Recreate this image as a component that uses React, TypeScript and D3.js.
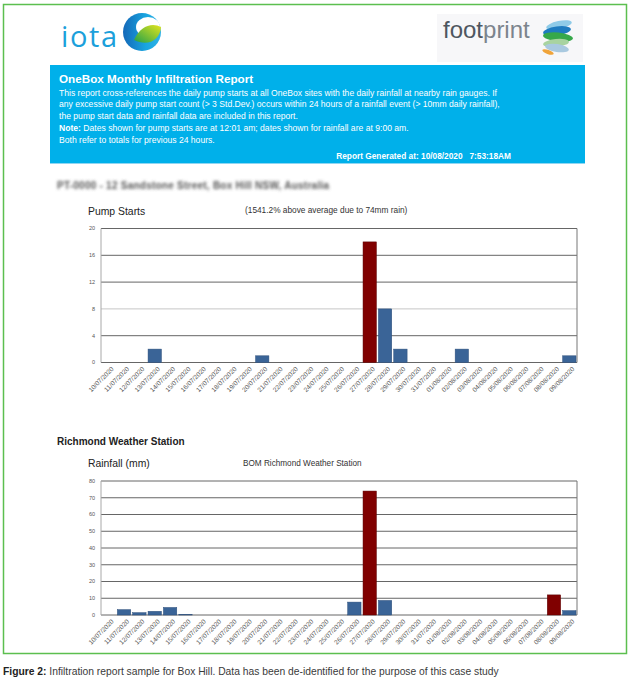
import React from 'react';
import * as d3 from 'd3';

const W = 632;
const H = 685;
const FONT = '"Liberation Sans", Arial, Helvetica, sans-serif';

// day labels on both x axes
const dates = [
  '10/07/2020', '11/07/2020', '12/07/2020', '13/07/2020', '14/07/2020', '15/07/2020',
  '16/07/2020', '17/07/2020', '18/07/2020', '19/07/2020', '20/07/2020', '21/07/2020',
  '22/07/2020', '23/07/2020', '24/07/2020', '25/07/2020', '26/07/2020', '27/07/2020',
  '28/07/2020', '29/07/2020', '30/07/2020', '31/07/2020', '01/08/2020', '02/08/2020',
  '03/08/2020', '04/08/2020', '05/08/2020', '06/08/2020', '07/08/2020', '08/08/2020',
  '09/08/2020',
];

const pumpStarts = [0, 0, 0, 2, 0, 0, 0, 0, 0, 0, 1, 0, 0, 0, 0, 0, 0, 18, 8, 2, 0, 0, 0, 2, 0, 0, 0, 0, 0, 0, 1];
const pumpHighlight = ['27/07/2020'];
const pumpTicks = [0, 4, 8, 12, 16, 20];

const rainfall = [0, 3.2, 1.4, 2.2, 4.5, 0.4, 0, 0, 0, 0, 0, 0, 0, 0, 0, 0, 7.7, 74, 8.7, 0, 0, 0, 0, 0, 0, 0, 0, 0, 0, 12, 2.6];
const rainHighlight = ['27/07/2020', '08/08/2020'];
const rainTicks = [0, 10, 20, 30, 40, 50, 60, 70, 80];

const infoLines = [
  'This report cross-references the daily pump starts at all OneBox sites with the daily rainfall at nearby rain gauges. If',
  'any excessive daily pump start count (> 3 Std.Dev.) occurs within 24 hours of a rainfall event (> 10mm daily rainfall),',
  'the pump start data and rainfall data are included in this report.',
];

const BLUE = '#3a6497';
const RED = '#800000';

type ChartProps = {
  top: number; bottom: number; left: number; right: number;
  values: number[]; highlight: string[]; ticks: number[]; lightTicks: number[];
};

function BarChart({ top, bottom, left, right, values, highlight, ticks, lightTicks }: ChartProps) {
  const x = d3.scaleBand().domain(dates).range([left, right]).paddingInner(0.13).paddingOuter(0.065);
  const y = d3.scaleLinear().domain([0, d3.max(ticks) as number]).range([bottom, top]);

  return (
    <g>
      {ticks.map(t => (
        <g key={t}>
          <line x1={left} x2={right} y1={y(t)} y2={y(t)}
            stroke={lightTicks.includes(t) ? '#c6c6c6' : '#666'} strokeWidth={1} />
          <text x={left - 6} y={y(t)} dy="0.35em" textAnchor="end" fontSize={5.5} fill="#555">{t}</text>
        </g>
      ))}
      <line x1={left} x2={left} y1={top} y2={bottom} stroke="#a8a8a8" strokeWidth={1} />
      <line x1={right} x2={right} y1={top} y2={bottom} stroke="#777" strokeWidth={1} />
      {dates.map((d, i) => values[i] > 0 && (
        <rect key={d} x={x(d)} width={x.bandwidth()} y={y(values[i])} height={bottom - y(values[i])}
          fill={highlight.includes(d) ? RED : BLUE}
          stroke={highlight.includes(d) ? '#5a0000' : '#2c4e7a'} strokeWidth={0.5} />
      ))}
      {dates.map(d => {
        const cx = (x(d) as number) + x.bandwidth() / 2;
        return (
          <text key={d} transform={`translate(${cx + 5.5},${bottom + 7}) rotate(-45)`}
            textAnchor="end" fontSize={6.5} fill="#555">{d}</text>
        );
      })}
    </g>
  );
}

function IotaLogo() {
  return (
    <g>
      <text x={61} y={47} fontSize={29} fill="#1ba0db" textLength={56} fontFamily='"Open Sans", sans-serif'>iota</text>
      <circle cx={142} cy={32} r={19} fill="url(#iotaGrad)" />
      <ellipse cx={148} cy={27} rx={12} ry={10} fill="#ffffff" />
      <path d="M134,40 C140,26 152,22 161,27 C160,40 148,47 134,40 Z" fill="url(#leafGrad)" />
    </g>
  );
}

function FootprintLogo() {
  return (
    <g>
      <rect x={437} y={14} width={146} height={48} fill="#f7f7f9" />
      <text x={443} y={38} fontSize={24} fill="#4e5660" fontFamily={FONT}>
        foot<tspan fill="#7c848d">print</tspan>
      </text>
      <ellipse cx={559} cy={25} rx={13} ry={4} fill="#8fcbe8" transform="rotate(-12 559 25)" />
      <ellipse cx={557} cy={31} rx={14} ry={4.5} fill="#1f7cc0" transform="rotate(-8 557 31)" />
      <ellipse cx={558} cy={37} rx={15} ry={4.5} fill="#36a84a" transform="rotate(6 558 37)" />
      <ellipse cx={556} cy={43} rx={13} ry={4} fill="#a8d3a0" transform="rotate(-6 556 43)" />
      <ellipse cx={557} cy={48} rx={12} ry={4} fill="#a9c9e0" transform="rotate(8 557 48)" />
      <ellipse cx={548} cy={52} rx={6} ry={2} fill="#f0a43a" transform="rotate(20 548 52)" />
    </g>
  );
}

export default function App() {
  return (
    <div style={{ position: 'absolute', left: 0, top: 0, width: W, height: H, background: '#fff' }}>
      <svg width={W} height={H} fontFamily={FONT} style={{ display: 'block' }}>
        <defs>
          <linearGradient id="iotaGrad" x1="0" x2="1" y1="0" y2="0">
            <stop offset="0" stopColor="#1468b8" />
            <stop offset="0.6" stopColor="#18a5e0" />
            <stop offset="1" stopColor="#2fb2e6" />
          </linearGradient>
          <linearGradient id="leafGrad" x1="0" x2="1" y1="1" y2="0">
            <stop offset="0" stopColor="#21a04a" />
            <stop offset="1" stopColor="#e3e51d" />
          </linearGradient>
          <filter id="blur" x="-5%" y="-50%" width="110%" height="200%">
            <feGaussianBlur stdDeviation="1.8" />
          </filter>
        </defs>

        <rect x={3.5} y={4.5} width={623} height={649} fill="#fff" stroke="#5cbf4f" strokeWidth={1.5} />

        <IotaLogo />
        <FootprintLogo />

        {/* info banner */}
        <rect x={50} y={65} width={535} height={98} fill="#00b0ea" />
        <line x1={50} x2={585} y1={163.5} y2={163.5} stroke="#8fd6f2" strokeWidth={1} />
        <text x={59} y={83} fontSize={11.7} fontWeight={700} fill="#fff">OneBox Monthly Infiltration Report</text>
        {infoLines.map((t, i) => (
          <text key={i} x={59} y={95.5 + i * 11.8} fontSize={8.6} fill="#fff">{t}</text>
        ))}
        <text x={59} y={130.9} fontSize={8.6} fill="#fff">
          <tspan fontWeight={700}>Note:</tspan> Dates shown for pump starts are at 12:01 am; dates shown for rainfall are at 9:00 am.
        </text>
        <text x={59} y={142.6} fontSize={8.6} fill="#fff">Both refer to totals for previous 24 hours.</text>
        <text x={511} y={159} fontSize={8.3} fontWeight={700} fill="#fff" textAnchor="end" style={{ whiteSpace: 'pre' }}>
          Report Generated at: 10/08/2020   7:53:18AM
        </text>

        {/* site name, de-identified */}
        <text x={57} y={189} fontSize={10} fontWeight={700} fill="#555" filter="url(#blur)" textLength={272}>
          PT-0000 - 12 Sandstone Street, Box Hill NSW, Australia
        </text>

        {/* pump starts */}
        <text x={88} y={214.5} fontSize={10.4} fill="#222">Pump Starts</text>
        <text x={245} y={213} fontSize={8.3} fill="#333">(1541.2% above average due to 74mm rain)</text>
        <BarChart top={228.5} bottom={362.5} left={101} right={577}
          values={pumpStarts} highlight={pumpHighlight} ticks={pumpTicks} lightTicks={[8]} />

        {/* rainfall */}
        <text x={57} y={444.5} fontSize={10} fontWeight={700} fill="#222">Richmond Weather Station</text>
        <text x={88} y={467} fontSize={10.4} fill="#222">Rainfall (mm)</text>
        <text x={243} y={466} fontSize={8.2} fill="#333">BOM Richmond Weather Station</text>
        <BarChart top={481} bottom={615} left={101} right={577}
          values={rainfall} highlight={rainHighlight} ticks={rainTicks} lightTicks={[]} />

        {/* caption */}
        <text x={3} y={675} fontSize={10.3} fill="#3a3a3a">
          <tspan fill="#222" fontWeight={700}>Figure 2:</tspan> Infiltration report sample for Box Hill. Data has been de-identified for the purpose of this case study
        </text>
      </svg>
    </div>
  );
}
